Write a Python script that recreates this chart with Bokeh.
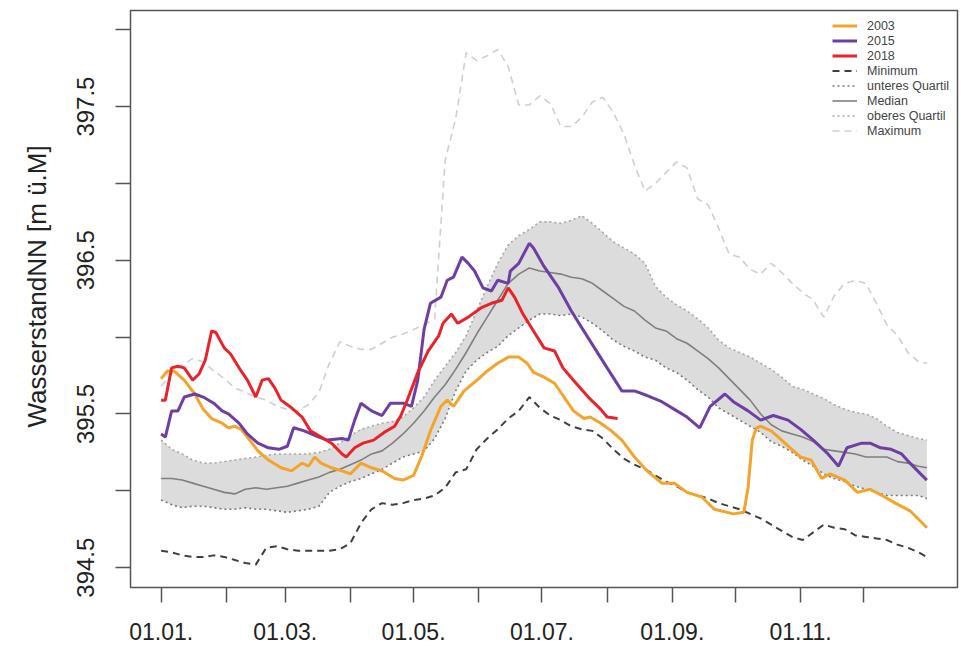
from bokeh.plotting import figure
from bokeh.models import Range1d, FixedTicker, Legend, LegendItem, Title
from bokeh.embed import file_html
from bokeh.resources import INLINE

# ---- statistics (day of year grid) ----
days_stat = [1, 6, 11, 16, 21, 26, 31, 36, 41, 46, 51, 56, 61, 66, 71, 76, 81, 86, 91, 96,
             101, 106, 111, 116, 121, 126, 131, 136, 141, 146, 151, 156, 161, 166, 171, 176,
             181, 186, 191, 196, 201, 206, 211, 216, 221, 226, 231, 236, 241, 246, 251, 256,
             261, 266, 271, 276, 281, 286, 291, 296, 301, 306, 311, 316, 321, 326, 331, 336,
             341, 346, 351, 356, 361, 365]

minimum = [394.61, 394.60, 394.58, 394.57, 394.57, 394.58, 394.57, 394.55, 394.53, 394.52,
           394.63, 394.64, 394.62, 394.61, 394.61, 394.61, 394.61, 394.62, 394.66, 394.79,
           394.88, 394.92, 394.91, 394.92, 394.94, 394.95, 394.97, 395.02, 395.12, 395.14,
           395.27, 395.34, 395.40, 395.47, 395.52, 395.61, 395.54, 395.49, 395.46, 395.42,
           395.40, 395.39, 395.34, 395.27, 395.21, 395.17, 395.14, 395.10, 395.06, 395.03,
           394.99, 394.97, 394.95, 394.92, 394.90, 394.88, 394.85, 394.82, 394.78, 394.74,
           394.70, 394.68, 394.73, 394.78, 394.76, 394.75, 394.71, 394.70, 394.69, 394.68,
           394.65, 394.63, 394.60, 394.57]

q_lower = [394.94, 394.91, 394.89, 394.90, 394.90, 394.89, 394.88, 394.88, 394.89, 394.88,
           394.88, 394.87, 394.86, 394.87, 394.88, 394.90, 394.99, 395.03, 395.06, 395.08,
           395.11, 395.14, 395.18, 395.22, 395.24, 395.26, 395.34, 395.47, 395.65, 395.78,
           395.85, 395.90, 395.94, 396.01, 396.06, 396.11, 396.15, 396.15, 396.14, 396.15,
           396.13, 396.09, 396.04, 395.98, 395.94, 395.91, 395.87, 395.85, 395.80, 395.77,
           395.72, 395.66, 395.61, 395.54, 395.50, 395.46, 395.42, 395.38, 395.32, 395.29,
           395.25, 395.20, 395.16, 395.11, 395.08, 395.06, 395.03, 395.01, 394.99, 394.97,
           394.97, 394.97, 394.97, 394.95]

median = [395.08, 395.08, 395.07, 395.05, 395.03, 395.01, 394.99, 394.98, 395.01, 395.02,
          395.01, 395.02, 395.03, 395.05, 395.07, 395.09, 395.12, 395.14, 395.17, 395.20,
          395.24, 395.26, 395.31, 395.37, 395.44, 395.52, 395.61, 395.69, 395.79, 395.90,
          396.02, 396.13, 396.24, 396.35, 396.41, 396.45, 396.43, 396.42, 396.41, 396.39,
          396.38, 396.35, 396.30, 396.25, 396.20, 396.17, 396.11, 396.06, 396.04, 395.99,
          395.96, 395.91, 395.86, 395.80, 395.73, 395.66, 395.59, 395.50, 395.43, 395.39,
          395.37, 395.35, 395.32, 395.27, 395.26, 395.25, 395.24, 395.22, 395.22, 395.22,
          395.19, 395.18, 395.16, 395.15]

q_upper = [395.33, 395.27, 395.24, 395.20, 395.18, 395.18, 395.19, 395.20, 395.21, 395.22,
           395.23, 395.24, 395.24, 395.24, 395.24, 395.25, 395.27, 395.31, 395.36, 395.40,
           395.42, 395.44, 395.45, 395.48, 395.54, 395.61, 395.72, 395.81, 395.90, 396.01,
           396.17, 396.33, 396.48, 396.60, 396.66, 396.70, 396.75, 396.75, 396.74, 396.76,
           396.79, 396.74, 396.68, 396.62, 396.58, 396.54, 396.48, 396.33, 396.26, 396.21,
           396.17, 396.12, 396.06, 395.98, 395.93, 395.90, 395.87, 395.83, 395.79, 395.74,
           395.68, 395.66, 395.63, 395.60, 395.56, 395.53, 395.51, 395.50, 395.47, 395.42,
           395.38, 395.36, 395.34, 395.33]

maximum = [395.68, 395.76, 395.82, 395.86, 395.84, 395.78, 395.73, 395.67, 395.64, 395.61,
           395.59, 395.55, 395.53, 395.52, 395.56, 395.64, 395.83, 395.97, 395.94, 395.92,
           395.92, 395.96, 396.00, 396.02, 396.05, 396.08, 396.12, 397.15, 397.42, 397.85,
           397.80, 397.83, 397.87, 397.76, 397.51, 397.51, 397.57, 397.52, 397.37, 397.37,
           397.43, 397.53, 397.56, 397.46, 397.32, 397.12, 396.95, 397.00, 397.07, 397.14,
           397.10, 396.90, 396.86, 396.71, 396.54, 396.52, 396.44, 396.41, 396.48, 396.42,
           396.35, 396.29, 396.24, 396.13, 396.27, 396.35, 396.37, 396.35, 396.22, 396.08,
           396.01, 395.90, 395.84, 395.83]

# ---- single years ----
days_2003 = [1, 4, 7, 12, 17, 21, 25, 30, 33, 36, 39, 42, 47, 52, 58, 63, 68, 71, 74, 77,
             82, 87, 91, 96, 101, 106, 112, 116, 121, 125, 129, 134, 137, 140, 145, 152, 156,
             161, 166, 171, 175, 178, 183, 188, 192, 197, 202, 205, 210, 215, 220, 226, 232,
             239, 245, 251, 258, 264, 267, 273, 278, 280, 282, 284, 286, 291, 296, 300, 305,
             310, 315, 319, 326, 332, 338, 345, 350, 357, 365]
level_2003 = [395.73, 395.78, 395.78, 395.72, 395.63, 395.53, 395.47, 395.44, 395.41, 395.42,
              395.40, 395.35, 395.26, 395.20, 395.15, 395.13, 395.18, 395.16, 395.22, 395.18,
              395.15, 395.13, 395.11, 395.18, 395.15, 395.13, 395.08, 395.07, 395.10, 395.23,
              395.39, 395.55, 395.59, 395.55, 395.65, 395.73, 395.78, 395.83, 395.87, 395.87,
              395.83, 395.77, 395.74, 395.70, 395.62, 395.52, 395.47, 395.48, 395.44, 395.39,
              395.33, 395.22, 395.13, 395.05, 395.05, 394.99, 394.96, 394.88, 394.87, 394.85,
              394.86, 395.02, 395.33, 395.41, 395.42, 395.39, 395.33, 395.28, 395.22, 395.20,
              395.08, 395.11, 395.07, 394.99, 395.01, 394.96, 394.92, 394.87, 394.76]

days_2015 = [1, 3, 6, 9, 12, 17, 21, 26, 30, 33, 38, 42, 47, 52, 57, 61, 64, 69, 76, 80,
             87, 90, 93, 96, 101, 106, 110, 116, 120, 123, 126, 129, 134, 137, 140, 144, 147,
             150, 154, 158, 161, 166, 167, 171, 176, 178, 183, 190, 196, 201, 207, 213, 220,
             226, 232, 239, 245, 251, 257, 262, 269, 273, 280, 286, 292, 299, 305, 311, 318,
             323, 327, 334, 338, 343, 348, 353, 357, 362, 365]
level_2015 = [395.37, 395.35, 395.52, 395.52, 395.61, 395.63, 395.61, 395.57, 395.52, 395.50,
              395.44, 395.37, 395.31, 395.28, 395.27, 395.29, 395.41, 395.39, 395.35, 395.33,
              395.34, 395.33, 395.46, 395.57, 395.52, 395.49, 395.57, 395.57, 395.55, 395.72,
              396.05, 396.22, 396.26, 396.37, 396.39, 396.52, 396.48, 396.43, 396.32, 396.30,
              396.37, 396.35, 396.43, 396.48, 396.61, 396.58, 396.46, 396.32, 396.17, 396.06,
              395.93, 395.80, 395.65, 395.65, 395.62, 395.58, 395.53, 395.48, 395.41, 395.55,
              395.63, 395.58, 395.52, 395.46, 395.49, 395.46, 395.40, 395.33, 395.24, 395.16,
              395.28, 395.31, 395.31, 395.28, 395.27, 395.24, 395.18, 395.11, 395.07]

days_2018 = [1, 3, 6, 9, 12, 16, 19, 22, 25, 27, 31, 34, 39, 42, 46, 49, 52, 55, 58, 63,
             68, 72, 77, 82, 87, 89, 93, 97, 102, 107, 112, 115, 118, 123, 128, 133, 135, 139,
             142, 147, 153, 158, 163, 166, 169, 173, 178, 183, 188, 192, 197, 204, 210, 213, 218]
level_2018 = [395.59, 395.59, 395.80, 395.81, 395.80, 395.72, 395.76, 395.85, 396.04, 396.03,
              395.93, 395.89, 395.78, 395.72, 395.61, 395.72, 395.73, 395.67, 395.59, 395.54,
              395.48, 395.39, 395.35, 395.31, 395.24, 395.22, 395.28, 395.31, 395.33, 395.38,
              395.42, 395.49, 395.59, 395.77, 395.91, 396.01, 396.09, 396.15, 396.09, 396.13,
              396.19, 396.22, 396.24, 396.32, 396.26, 396.15, 396.04, 395.93, 395.91, 395.80,
              395.72, 395.61, 395.53, 395.48, 395.47]

# ---- axis ticks ----
month_ticks = [1, 32, 60, 91, 121, 152, 182, 213, 244, 274, 305, 335]
month_labels = ["01.01.", "", "01.03.", "", "01.05.", "", "01.07.", "", "01.09.", "", "01.11.", ""]
level_ticks = [394.5, 395.0, 395.5, 396.0, 396.5, 397.0, 397.5, 398.0]
level_labels = ["394.5", "", "395.5", "", "396.5", "", "397.5", ""]

FONT = "Liberation Sans"

p = figure(width=961, height=648, output_backend="svg", toolbar_location=None,
           x_range=Range1d(-13.56, 379.56), y_range=Range1d(394.371, 398.125),
           min_border_left=130, min_border_right=4, min_border_top=10, min_border_bottom=61)

p.background_fill_color = "white"
p.border_fill_color = "white"
p.outline_line_color = "#555555"
p.outline_line_width = 1.5
p.xgrid.visible = False
p.ygrid.visible = False

# band between quartiles
p.varea(x=days_stat, y1=q_lower, y2=q_upper, fill_color="#DCDCDC", fill_alpha=1.0)

r_ql = p.line(days_stat, q_lower, line_color="#7A7A7A", line_width=1.6, line_dash="2 3")
r_qu = p.line(days_stat, q_upper, line_color="#A6A6A6", line_width=1.6, line_dash="2 3")
r_med = p.line(days_stat, median, line_color="#7F7F7F", line_width=1.6)
r_min = p.line(days_stat, minimum, line_color="#404040", line_width=2, line_dash="7 5")
r_max = p.line(days_stat, maximum, line_color="#CFCFCF", line_width=1.6, line_dash="7 5")

r03 = p.line(days_2003, level_2003, line_color="#F2A52A", line_width=3)
r15 = p.line(days_2015, level_2015, line_color="#6E3FA2", line_width=3)
r18 = p.line(days_2018, level_2018, line_color="#E8232B", line_width=3)

# x axis
xa = p.xaxis[0]
xa.ticker = FixedTicker(ticks=month_ticks)
xa.major_label_overrides = {t: s for t, s in zip(month_ticks, month_labels)}
xa.axis_line_color = None
xa.minor_tick_line_color = None
xa.major_tick_in = 0
xa.major_tick_out = 15
xa.major_tick_line_color = "#555555"
xa.major_tick_line_width = 1.5
xa.major_label_standoff = 20
xa.major_label_text_font = FONT
xa.major_label_text_font_size = "23px"
xa.major_label_text_color = "#222222"

# y axis
ya = p.yaxis[0]
ya.ticker = FixedTicker(ticks=level_ticks)
ya.major_label_overrides = {t: s for t, s in zip(level_ticks, level_labels)}
ya.axis_line_color = None
ya.minor_tick_line_color = None
ya.major_tick_in = 0
ya.major_tick_out = 15
ya.major_tick_line_color = "#555555"
ya.major_tick_line_width = 1.5
ya.major_label_orientation = "vertical"
ya.major_label_standoff = 21
ya.major_label_text_font = FONT
ya.major_label_text_font_size = "24px"
ya.major_label_text_color = "#222222"

ytitle = Title(text="WasserstandNN [m ü.M]", align="left", offset=160, standoff=41,
               vertical_align="top",
               text_font=FONT, text_font_size="26px", text_font_style="normal",
               text_color="#222222")
p.add_layout(ytitle, "left")

legend = Legend(items=[
    LegendItem(label="2003", renderers=[r03]),
    LegendItem(label="2015", renderers=[r15]),
    LegendItem(label="2018", renderers=[r18]),
    LegendItem(label="Minimum", renderers=[r_min]),
    LegendItem(label="unteres Quartil", renderers=[r_ql]),
    LegendItem(label="Median", renderers=[r_med]),
    LegendItem(label="oberes Quartil", renderers=[r_qu]),
    LegendItem(label="Maximum", renderers=[r_max]),
], location=(702, 449))
legend.padding = 0
legend.spacing = 0
legend.margin = 0
legend.label_height = 15
legend.glyph_height = 15
legend.glyph_width = 25
legend.label_standoff = 10
legend.border_line_color = None
legend.background_fill_alpha = 0
legend.label_text_font = FONT
legend.label_text_font_size = "12.5px"
legend.label_text_color = "#444444"
p.add_layout(legend)

open("out.html", "w").write(file_html(p, INLINE))
